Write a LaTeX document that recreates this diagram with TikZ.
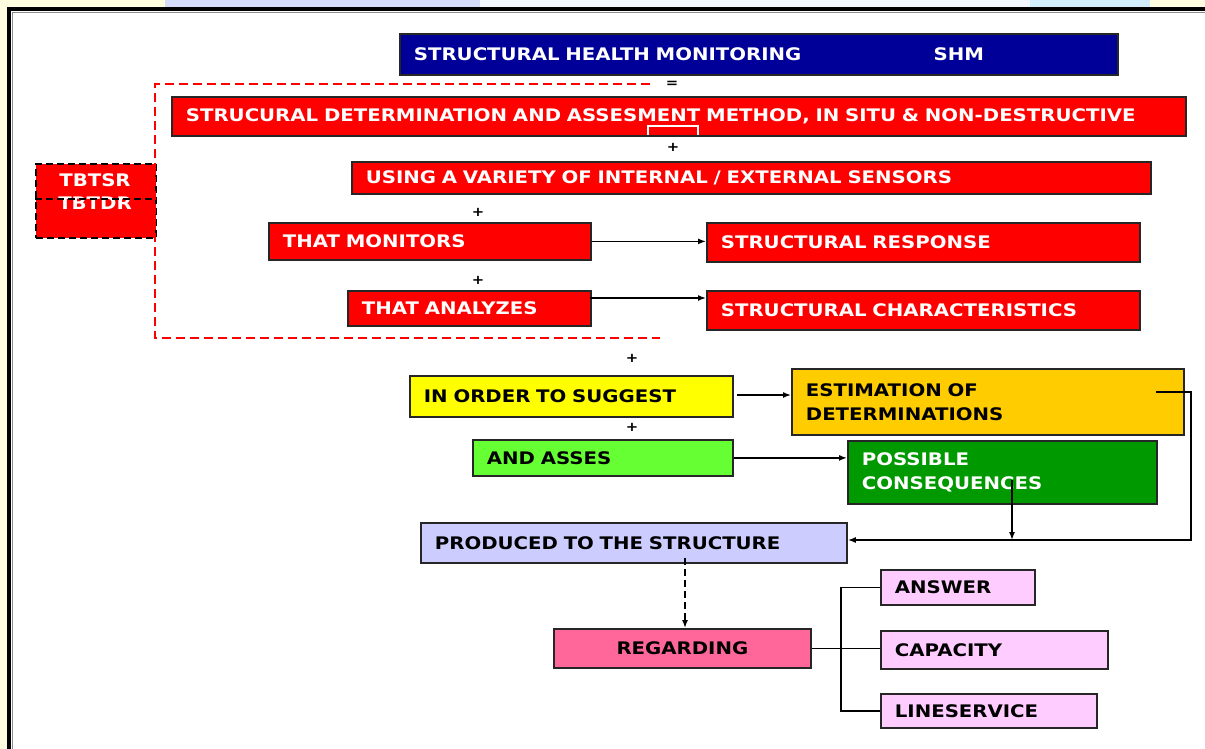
\documentclass[tikz,border=0pt]{standalone}
\usepackage{fontspec}
\setmainfont{DejaVu Sans}[FakeStretch=1.14]
\usetikzlibrary{arrows.meta}

\definecolor{paleyellow}{HTML}{FFFDE0}
\definecolor{paleblue}{HTML}{D4DCFA}
\definecolor{palecyan}{HTML}{D2EEFD}
\definecolor{nearwhite}{HTML}{F3F7FE}
\definecolor{navy}{HTML}{000099}
\definecolor{boxred}{HTML}{FF0000}
\definecolor{boxyellow}{HTML}{FFFF00}
\definecolor{boxorange}{HTML}{FFCC00}
\definecolor{boxlime}{HTML}{66FF33}
\definecolor{boxgreen}{HTML}{009900}
\definecolor{boxlavender}{HTML}{CCCCFF}
\definecolor{boxpink}{HTML}{FF6699}
\definecolor{boxlightpink}{HTML}{FFCCFF}
\definecolor{edge}{HTML}{262626}

\tikzset{
  box/.style={draw=edge, line width=1.8pt, anchor=north west,
    inner xsep=14pt, inner ysep=0pt, align=left,
    font=\fontsize{17.3}{24}\selectfont\bfseries},
  redbox/.style={box, fill=boxred, text=white},
  bluebox/.style={box, fill=navy, text=white},
  yellowbox/.style={box, fill=boxyellow, text=black},
  orangebox/.style={box, fill=boxorange, text=black},
  limebox/.style={box, fill=boxlime, text=black},
  greenbox/.style={box, fill=boxgreen, text=white},
  lavenderbox/.style={box, fill=boxlavender, text=black},
  pinkbox/.style={box, fill=boxpink, text=black, align=center},
  lightpinkbox/.style={box, fill=boxlightpink, text=black},
  tagbox/.style={draw=black, line width=1.8pt, fill=boxred, dash pattern=on 7pt off 4pt,
    anchor=north west, inner sep=0pt},
  tagtext/.style={text=white, align=center, inner sep=0pt,
    font=\fontsize{17.3}{23}\selectfont\bfseries},
  link/.style={draw=black, line width=1.5pt},
  arr/.style={link, -{Latex[length=8pt,width=6pt]}},
  sign/.style={font=\fontsize{13}{13}\selectfont\bfseries, inner sep=0pt},
}

% \bx{name}{left}{top}{width}{height}{style}{text}
\newcommand\bx[7]{%
  \pgfmathsetmacro\bxtw{#4-28}%
  \node[#6, minimum height=#5pt, text width=\bxtw pt] (#1) at (#2,#3) {#7};}

\begin{document}
\begin{tikzpicture}[x=1pt, y=-1pt]
\useasboundingbox (0,0) rectangle (1205,749);
\begin{scope}
\clip (0,0) rectangle (1205,749);
% page backdrop and slide frame
\fill[paleyellow] (0,0) rectangle (1205,749);
\fill[paleblue] (165,0) rectangle (480,9);
\fill[nearwhite] (480,0) rectangle (1030,9);
\fill[palecyan] (1030,0) rectangle (1150,9);
\fill[white] (9,9) rectangle (1220,760);
\draw[black, line width=3.5pt] (9,770) -- (9,9) -- (1220,9);
\draw[black!45, line width=0.8pt] (12.2,770) -- (12.2,12.2) -- (1220,12.2);

% boxes
\bx{shm}{399}{33}{718}{41}{bluebox}{STRUCTURAL HEALTH MONITORING\hfill SHM\hspace*{120pt}}
\bx{meth}{171}{96}{1014}{39}{redbox}{STRUCURAL DETERMINATION AND ASSESMENT METHOD, IN SITU \& NON-DESTRUCTIVE}
\bx{using}{351}{161}{799}{32}{redbox}{USING A VARIETY OF INTERNAL / EXTERNAL SENSORS}
\bx{mon}{268}{222}{322}{37}{redbox}{THAT MONITORS}
\bx{resp}{706}{222}{433}{39}{redbox}{STRUCTURAL RESPONSE}
\bx{ana}{347}{290}{243}{35}{redbox}{THAT ANALYZES}
\bx{char}{706}{290}{433}{39}{redbox}{STRUCTURAL CHARACTERISTICS}

% two-part tag box on the left
\node[tagbox, minimum width=120pt, minimum height=74pt] (tb) at (35,163) {};
\node[tagtext] (tbtext) at (95,192) {TBTSR\\TBTDR};
\draw[black, line width=1.8pt, dash pattern=on 7pt off 4pt] (tb.west |- 0,199) -- (tb.east |- 0,199);

\bx{sug}{409}{375}{323}{41}{yellowbox}{IN ORDER TO SUGGEST}
\bx{est}{791}{368}{392}{66}{orangebox}{ESTIMATION OF\\DETERMINATIONS}
\bx{asses}{472}{439}{260}{36}{limebox}{AND ASSES}
\bx{cons}{847}{440}{309}{63}{greenbox}{POSSIBLE\\CONSEQUENCES}
\bx{prod}{420}{522}{426}{40}{lavenderbox}{PRODUCED TO THE STRUCTURE}
\bx{reg}{553}{628}{257}{39}{pinkbox}{REGARDING}
\bx{ans}{880}{569}{154}{35}{lightpinkbox}{ANSWER}
\bx{cap}{880}{630}{227}{38}{lightpinkbox}{CAPACITY}
\bx{lin}{880}{693}{216}{34}{lightpinkbox}{LINESERVICE}

% small white mark on the method box
\draw[white, line width=1.2pt] (648,135) -- (648,126) -- (698,126) -- (698,135);

% red dashed bracket round the method steps
\draw[boxred, line width=1.5pt, dash pattern=on 9pt off 5pt] (650,84) -- (155,84) -- (155,338) -- (660,338);

% joining signs
\node[sign] (eq) at (672,84) {=};
\node[sign] (p1) at (673,147) {+};
\node[sign] (p2) at (478,212) {+};
\node[sign] (p3) at (478,280) {+};
\node[sign] (p4) at (632,358) {+};
\node[sign] (p5) at (632,427) {+};

% connectors
\draw[arr] (mon.east) -- (mon.east -| resp.west);
\coordinate (a1) at (590,298);
\draw[arr] (a1) -- (a1 -| char.west);
\coordinate (s1) at (737,395);
\draw[arr] (s1) -- (s1 -| est.west);
\draw[arr] (asses.east) -- (asses.east -| cons.west);
\coordinate (e1) at (1156,392);
\coordinate (e2) at (1191,540);
\draw[arr] (e1) -- (e1 -| e2) -- (e2) -- (e2 -| prod.east);
\coordinate (c1) at (1012,480);
\draw[arr] (c1) -- (c1 |- e2);
\coordinate (d1) at (685,558);
\draw[arr, dash pattern=on 7pt off 4pt] (d1) -- (d1 |- reg.north);
\coordinate (t) at (841,648);
\draw[link] (reg.east) -- (reg.east -| cap.west);
\draw[link] (ans.west) -- (ans.west -| t) -- (lin.west -| t) -- (lin.west);
\end{scope}
\end{tikzpicture}
\end{document}
